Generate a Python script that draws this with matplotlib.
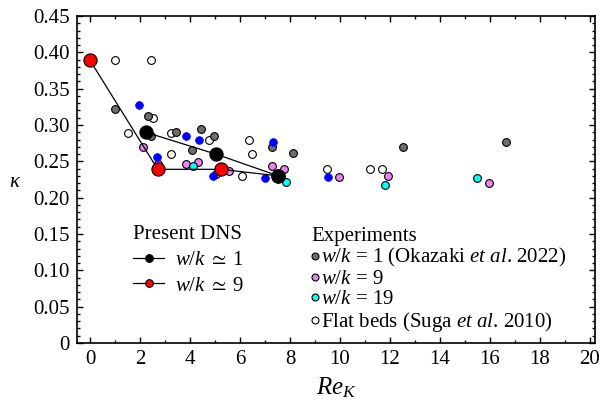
import matplotlib
matplotlib.use('Agg')
import matplotlib.pyplot as plt
from matplotlib.lines import Line2D
from matplotlib.ticker import MultipleLocator, FixedLocator, FixedFormatter

plt.rcParams['font.family'] = ['Liberation Serif', 'DejaVu Serif']
plt.rcParams['mathtext.fontset'] = 'custom'
plt.rcParams['mathtext.rm'] = 'Liberation Serif'
plt.rcParams['mathtext.it'] = 'Liberation Serif:italic'
plt.rcParams['mathtext.fallback'] = 'stix'

# ---- data ----
dns1_x = [2.23, 5.03, 7.53]
dns1_y = [0.290, 0.260, 0.230]
dns9_x = [0.0, 2.71, 5.24, 7.53]
dns9_y = [0.389, 0.239, 0.239, 0.230]

gray_x = [1.0, 2.33, 2.43, 3.44, 4.07, 4.44, 4.95, 7.27, 8.12, 12.5, 16.65]
gray_y = [0.322, 0.312, 0.285, 0.291, 0.265, 0.294, 0.285, 0.270, 0.262, 0.270, 0.277]

blue_x = [1.97, 2.66, 3.84, 4.37, 4.90, 6.98, 7.30, 9.51]
blue_y = [0.327, 0.256, 0.285, 0.279, 0.230, 0.227, 0.277, 0.228]

pink_x = [2.11, 2.73, 3.84, 4.33, 5.02, 5.56, 7.27, 7.77, 9.97, 11.9, 15.95]
pink_y = [0.270, 0.246, 0.246, 0.249, 0.233, 0.237, 0.243, 0.239, 0.228, 0.230, 0.220]

cyan_x = [4.10, 7.82, 11.79, 15.49]
cyan_y = [0.244, 0.222, 0.218, 0.227]

flat_x = [1.0, 2.42, 2.53, 1.51, 3.23, 4.74, 3.24, 6.36, 6.47, 6.06, 9.49, 11.2, 11.69]
flat_y = [0.389, 0.389, 0.309, 0.289, 0.289, 0.279, 0.260, 0.279, 0.260, 0.230, 0.239, 0.239, 0.239]

xticks = [0, 2, 4, 6, 8, 10, 12, 14, 16, 18, 20]
yticks = [0, 0.05, 0.10, 0.15, 0.20, 0.25, 0.30, 0.35, 0.40, 0.45]
ytick_labels = ['0', '0.05', '0.10', '0.15', '0.20', '0.25', '0.30', '0.35', '0.40', '0.45']

dns_labels = [r'$w/k\;\simeq\;1$', r'$w/k\;\simeq\;9$']
exp_labels = [r'$w/k$ = 1 (Okazaki $et$ $al$. 2022)', r'$w/k$ = 9', r'$w/k$ = 19',
              r'Flat beds (Suga $et$ $al$. 2010)']

GRAY = '#6e6e6e'
PINK = '#ee82ee'
CYAN = '#00ffff'
BLUE = '#0000ff'

fig = plt.figure(figsize=(6.04, 4.04), dpi=100)
ax = fig.add_axes([77/604, 61/404, 518/604, 327/404])

ms_s = 5.6
mew = 0.8
ax.plot(flat_x, flat_y, ls='none', marker='o', ms=ms_s, mfc='white', mec='black', mew=mew, zorder=3)
ax.plot(gray_x, gray_y, ls='none', marker='o', ms=ms_s, mfc=GRAY, mec='black', mew=mew, zorder=3)
ax.plot(pink_x, pink_y, ls='none', marker='o', ms=ms_s, mfc=PINK, mec='black', mew=mew, zorder=3)
ax.plot(cyan_x, cyan_y, ls='none', marker='o', ms=ms_s, mfc=CYAN, mec='black', mew=mew, zorder=3)
ax.plot(blue_x, blue_y, ls='none', marker='o', ms=ms_s, mfc=BLUE, mec=BLUE, mew=0.5, zorder=3)

ax.plot(dns9_x, dns9_y, color='black', lw=0.9, zorder=4)
ax.plot(dns1_x, dns1_y, color='black', lw=0.9, zorder=4)
ax.plot(dns9_x, dns9_y, ls='none', marker='o', ms=9.5, mfc='red', mec='black', mew=0.8, zorder=5)
ax.plot(dns1_x, dns1_y, ls='none', marker='o', ms=9.5, mfc='black', mec='black', mew=0.8, zorder=6)

ax.set_xlim(-0.52, 20.2)
ax.set_ylim(0, 0.45)
ax.xaxis.set_major_locator(FixedLocator(xticks))
ax.xaxis.set_minor_locator(MultipleLocator(1))
ax.yaxis.set_major_locator(FixedLocator(yticks))
ax.yaxis.set_major_formatter(FixedFormatter(ytick_labels))
ax.yaxis.set_minor_locator(MultipleLocator(0.01))
ax.tick_params(which='both', direction='in', top=True, right=True, width=1.0, labelsize=15)
ax.tick_params(which='major', length=4.5, pad=5)
ax.tick_params(which='minor', length=2.5)
for s in ax.spines.values():
    s.set_linewidth(1.2)

ax.set_xlabel(r'$Re_K$', fontsize=18, labelpad=5)
ax.set_ylabel(r'$\kappa$', fontsize=15, rotation=0)
ax.yaxis.set_label_coords((15-77)/518, (343-192)/327)

h1 = [Line2D([], [], color='black', lw=0.9, marker='o', ms=5.5, mfc='black', mec='black', mew=0.8),
      Line2D([], [], color='black', lw=0.9, marker='o', ms=5.5, mfc='red', mec='black', mew=0.8)]
leg1 = ax.legend(h1, dns_labels, title='Present DNS', loc='upper left',
                 bbox_to_anchor=((133-77)/518, (343-225)/327), frameon=False,
                 fontsize=15, title_fontsize=15, alignment='left', handlelength=1.5,
                 handletextpad=0.5, borderpad=0, borderaxespad=0, labelspacing=0.3)
ax.add_artist(leg1)

h2 = [Line2D([], [], ls='none', marker='o', ms=5, mfc=c, mec='black', mew=0.8)
      for c in [GRAY, PINK, CYAN, 'white']]
leg2 = ax.legend(h2, exp_labels, title='Experiments', loc='upper left',
                 bbox_to_anchor=((311-77)/518, (343-227)/327), frameon=False,
                 fontsize=15, title_fontsize=15, alignment='left', handlelength=0.4,
                 handletextpad=0.1, borderpad=0, borderaxespad=0, labelspacing=0.02)

fig.savefig('out.png', dpi=100)
